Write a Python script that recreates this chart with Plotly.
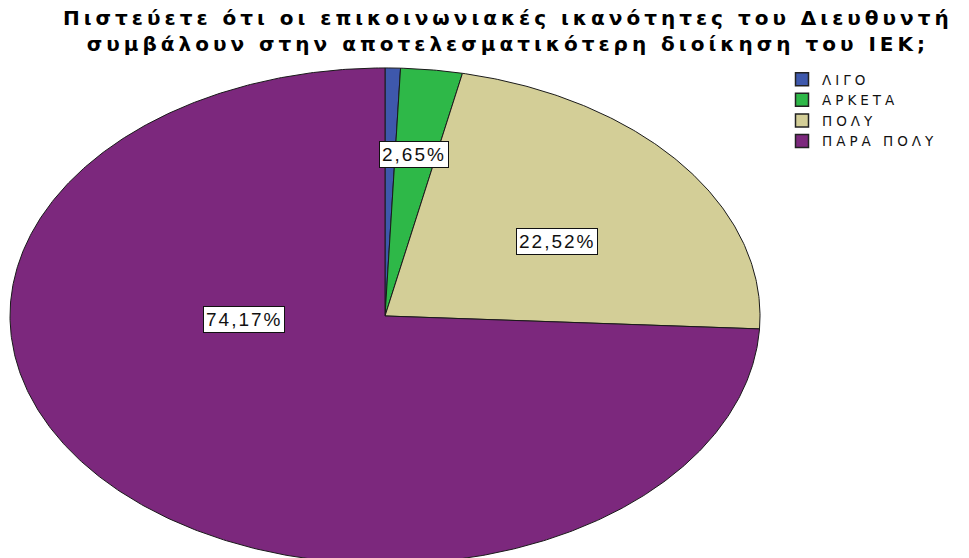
import numpy as np
import plotly.graph_objects as go

# Survey answers (share of respondents, %)
categories = ["ΛΙΓΟ", "ΑΡΚΕΤΑ", "ΠΟΛΥ", "ΠΑΡΑ ΠΟΛΥ"]
percentages = [0.66, 2.65, 22.52, 74.17]
shown_labels = [False, True, True, True]
colors = ["#3E58AC", "#2EB848", "#D3CE97", "#7C287D"]

title_lines = [
    "Πιστεύετε ότι οι επικοινωνιακές ικανότητες του Διευθυντή",
    "συμβάλουν στην αποτελεσματικότερη διοίκηση του ΙΕΚ;",
]

# label anchor points in unit-circle coordinates
label_pos = [None, (0.077, 0.653), (0.459, 0.302), (-0.376, -0.016)]

fig = go.Figure()

total = sum(percentages)
start = 0.0
for name, pct, col in zip(categories, percentages, colors):
    end = start + pct / total
    t = np.linspace(start, end, max(int((end - start) * 720), 2) + 1)
    # clockwise from 12 o'clock
    xs = np.concatenate([[0.0], np.sin(2 * np.pi * t), [0.0]])
    ys = np.concatenate([[0.0], np.cos(2 * np.pi * t), [0.0]])
    fig.add_trace(go.Scatter(
        x=xs, y=ys, mode="lines", fill="toself", fillcolor=col,
        line=dict(color="#1a1a1a", width=1), showlegend=False,
        hoverinfo="text", text=f"{name}: {pct:.2f}%".replace(".", ","),
    ))
    start = end

# legend entries
for name, col in zip(categories, colors):
    fig.add_trace(go.Scatter(
        x=[None], y=[None], mode="markers",
        name=f'<span style="letter-spacing:4px">{name}</span>',
        marker=dict(symbol="square", size=13, color=col,
                    line=dict(color="#222222", width=1.5)),
    ))

annotations = []
for pct, show, pos in zip(percentages, shown_labels, label_pos):
    if not show:
        continue
    txt = f"{pct:.2f}%".replace(".", ",")
    annotations.append(dict(
        x=pos[0], y=pos[1], xref="x", yref="y", showarrow=False,
        text=f'<span style="letter-spacing:2px">{txt}</span>',
        font=dict(family="Liberation Sans, Arial", size=19, color="#111111"),
        bgcolor="white", bordercolor="#111111", borderwidth=1, borderpad=2,
    ))

title_text = "<br>".join(
    f'<span style="letter-spacing:4px">{line}</span>' for line in title_lines
)
annotations.append(dict(
    x=508 / 969, y=1 - 31 / 558, xref="paper", yref="paper",
    xanchor="center", yanchor="middle", showarrow=False,
    text=f"<b>{title_text}</b>",
    font=dict(family="DejaVu Sans", size=20, color="#000000"),
))

fig.update_layout(
    width=969, height=558,
    margin=dict(l=0, r=0, t=0, b=0),
    paper_bgcolor="white", plot_bgcolor="white",
    xaxis=dict(range=[-1.0267, 1.5573], visible=False, fixedrange=True),
    yaxis=dict(range=[-0.9758, 1.274], visible=False, fixedrange=True),
    showlegend=True,
    legend=dict(
        x=782 / 969, y=1 - 64 / 558, xanchor="left", yanchor="top",
        font=dict(family="DejaVu Sans", size=13.5, color="#111111"),
        bgcolor="rgba(0,0,0,0)", borderwidth=0, tracegroupgap=0,
        itemclick=False, itemdoubleclick=False,
    ),
    annotations=annotations,
)

fig.write_html("out.html")
